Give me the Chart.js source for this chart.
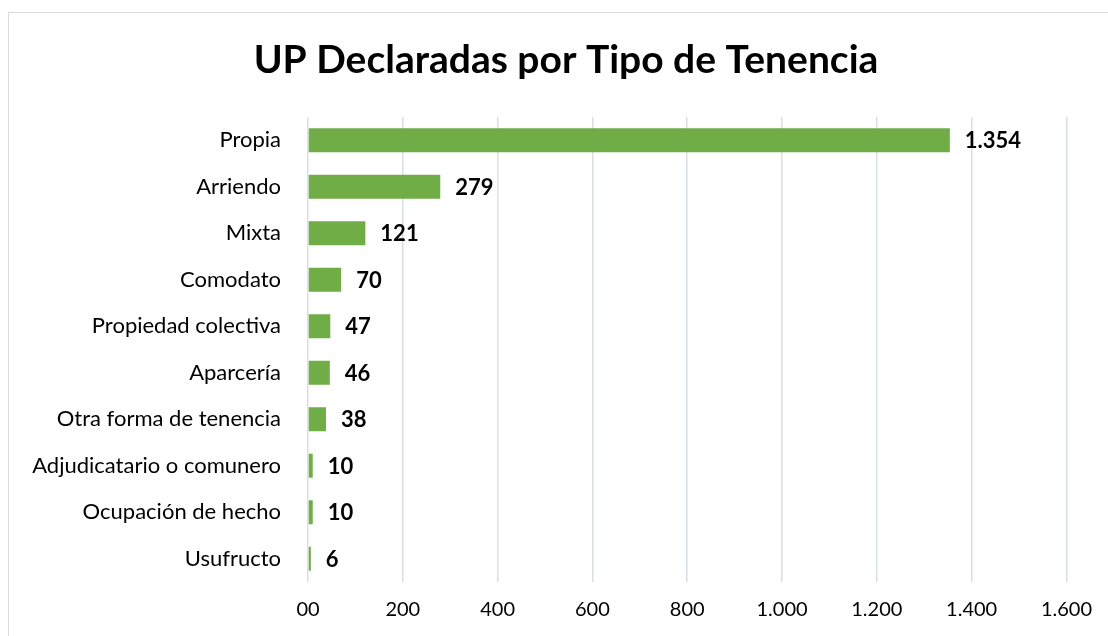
<!DOCTYPE html>
<html>
<head>
<meta charset="utf-8">
<script src="https://cdn.jsdelivr.net/npm/chart.js@4"></script>
<style>
  html, body { margin: 0; padding: 0; background: #fff; }
  #wrap { width: 1108px; height: 636px; }
</style>
</head>
<body>
<div id="wrap"><canvas id="chart" width="1108" height="636"></canvas></div>
<script>
const categories = ['Propia', 'Arriendo', 'Mixta', 'Comodato', 'Propiedad colectiva', 'Aparcería',
  'Otra forma de tenencia', 'Adjudicatario o comunero', 'Ocupación de hecho', 'Usufructo'];
const values = [1354, 279, 121, 70, 47, 46, 38, 10, 10, 6];
const xTicks = [0, 200, 400, 600, 800, 1000, 1200, 1400, 1600];
const chartTitle = 'UP Declaradas por Tipo de Tenencia';

const fontName = 'Lato, "Open Sans", sans-serif';
// thousands with a dot, zero shown as "00" like the original
const fmtNum = v => v === 0 ? '00' : String(v).replace(/\B(?=(\d{3})+(?!\d))/g, '.');

// frame around the whole chart + title
const framePlugin = {
  id: 'frame',
  beforeDraw(chart) {
    const c = chart.ctx;
    c.save();
    c.strokeStyle = '#D9D9D9';
    c.lineWidth = 1;
    c.strokeRect(8.5, 12.5, 1200, 700);
    c.font = 'bold 39px ' + fontName;
    c.fillStyle = '#000';
    c.textAlign = 'center';
    c.textBaseline = 'middle';
    c.fillText(chartTitle, 566, 60);
    c.restore();
  }
};

// value labels at end of bars
const labelPlugin = {
  id: 'barLabels',
  afterDatasetsDraw(chart) {
    const c = chart.ctx;
    const meta = chart.getDatasetMeta(0);
    c.save();
    c.font = 'bold 22px ' + fontName;
    c.fillStyle = '#000';
    c.textBaseline = 'middle';
    c.textAlign = 'left';
    meta.data.forEach((bar, i) => {
      c.fillText(fmtNum(values[i]), bar.x + 15, bar.y + 1);
    });
    c.restore();
  }
};

new Chart(document.getElementById('chart'), {
  type: 'bar',
  data: {
    labels: categories,
    datasets: [{
      data: values,
      backgroundColor: '#70AD47',
      borderWidth: 0,
      barPercentage: 0.52,
      categoryPercentage: 1
    }]
  },
  options: {
    indexAxis: 'y',
    responsive: false,
    animation: false,
    layout: { padding: { left: 0, right: 40, top: 117, bottom: 0 } },
    plugins: {
      legend: { display: false },
      tooltip: { enabled: false },
      title: { display: false }
    },
    scales: {
      x: {
        min: 0,
        max: 1600,
        afterBuildTicks: s => { s.ticks = xTicks.map(v => ({ value: v })); },
        afterFit: s => { s.height = 54; },
        grid: { color: '#D9DDE4', lineWidth: 1.5, drawTicks: false },
        border: { display: false },
        ticks: {
          padding: 16,
          color: '#000',
          font: { family: fontName, size: 20 },
          callback: v => fmtNum(v)
        }
      },
      y: {
        afterFit: s => { s.width = 308; },
        grid: { display: false },
        border: { display: false },
        ticks: {
          padding: 19,
          color: '#000',
          font: { family: fontName, size: 22 }
        }
      }
    }
  },
  plugins: [framePlugin, labelPlugin]
});
</script>
</body>
</html>
